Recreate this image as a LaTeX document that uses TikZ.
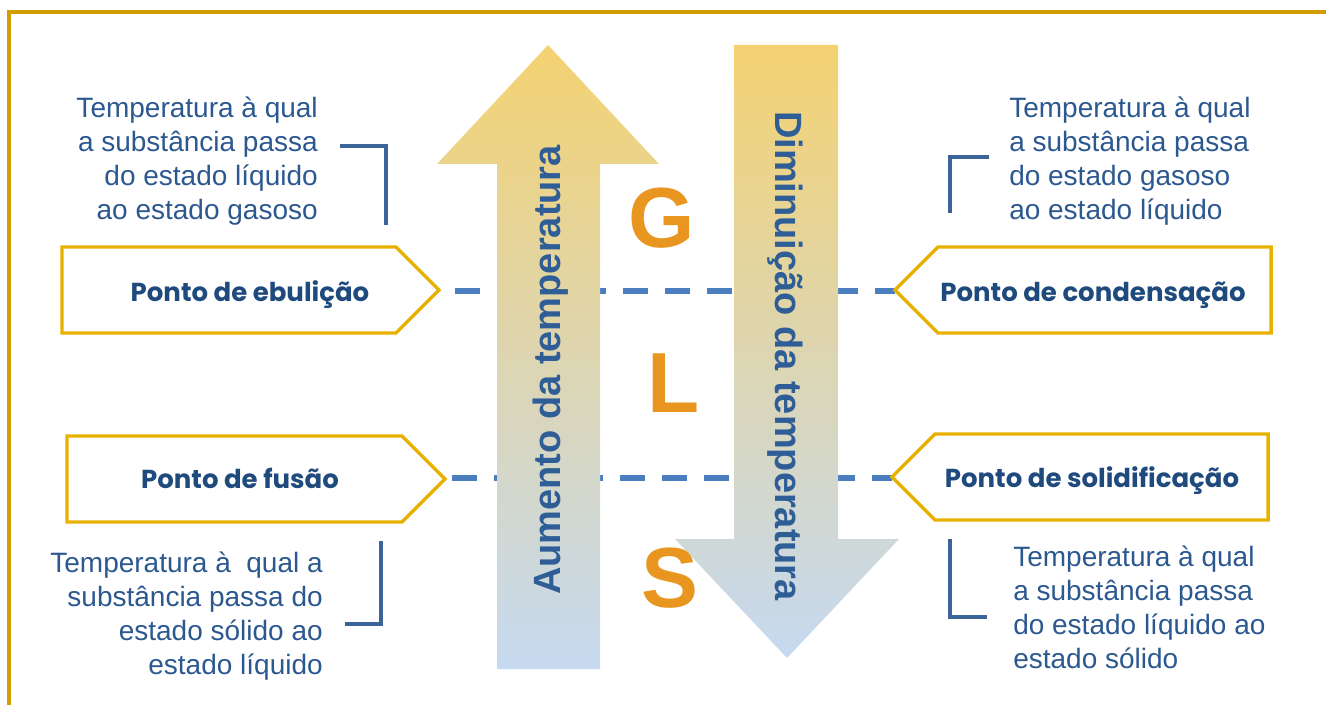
\documentclass[tikz,border=0pt]{standalone}
\usepackage{fontspec}
\setmainfont{Liberation Sans}
\newfontfamily\labelfont{Poppins}
\definecolor{framecol}{HTML}{D09E00}
\definecolor{pentacol}{HTML}{E8B100}
\definecolor{lbltext}{HTML}{1F4A7E}
\definecolor{anntext}{HTML}{2C5890}
\definecolor{brkcol}{HTML}{3B6598}
\definecolor{dashcol}{HTML}{4A7EBF}
\definecolor{arrtop}{HTML}{F4D272}
\definecolor{arrbot}{HTML}{C6D9F0}
\definecolor{arrtext}{HTML}{2F5E97}
\definecolor{lettercol}{HTML}{E8961F}
\tikzset{
  pentabox/.style={draw=pentacol, line width=2.6pt, fill=white, line join=miter},
  lbl/.style={inner sep=0pt, text=lbltext, font=\labelfont\bfseries\fontsize{19.5}{22}\selectfont},
  ann/.style={inner sep=0pt, text=anntext, font=\fontsize{21}{25.5}\selectfont},
  brk/.style={draw=brkcol, line width=2.5pt},
  dashline/.style={draw=dashcol, line width=4.5pt, dash pattern=on 18.75pt off 12.75pt},
  bigarrow/.style={top color=arrtop, bottom color=arrbot, draw=none},
  arrtxt/.style={inner sep=0pt, text=arrtext, font=\bfseries\fontsize{28.5}{30}\selectfont},
  phase/.style={inner sep=0pt, text=lettercol, font=\bfseries\fontsize{64}{66}\selectfont}
}
\begin{document}
\begin{tikzpicture}[x=0.75pt,y=-0.75pt]
\useasboundingbox (0,0) rectangle (1326,705);
\clip (0,0) rectangle (1326,705);
% frame
\draw[framecol, line width=3pt] (9,12) rectangle (1400,800);

% dashed connectors (behind arrows)
\coordinate (ebul-tip) at (439,290);
\coordinate (fus-tip) at (445,479);
\coordinate (cond-tip) at (895,290);
\coordinate (solid-tip) at (892,477);
\coordinate (ebul-start) at (455,291);
\coordinate (fus-start) at (452,478);
\coordinate (cond-end) at (895,291);
\coordinate (solid-end) at (892,478);
\draw[dashline] (ebul-start) -- (cond-end);
\draw[dashline] (fus-start) -- (solid-end);

% big arrows
\shade[bigarrow] (497,669) -- (497,164) -- (437,164) -- (548,45) -- (659,164) -- (600,164) -- (600,669) -- cycle;
\shade[bigarrow] (734,45) -- (838,45) -- (838,539) -- (899,539) -- (787,658) -- (675,539) -- (734,539) -- cycle;
\node[arrtxt, rotate=90, anchor=base] (uplabel) at (560,370) {Aumento da temperatura};
\node[arrtxt, rotate=-90, anchor=base] (downlabel) at (775,356) {Diminuição da temperatura};

% phase letters
\node[phase, anchor=base] (G) at (662,248) {G};
\node[phase, anchor=base] (L) at (674,412) {L};
\node[phase, anchor=base] (S) at (670,607) {S};

% pentagon labels
\draw[pentabox] (62,247) -- (396,247) -- (ebul-tip) -- (396,333) -- (62,333) -- cycle;
\draw[pentabox] (67,436) -- (402,436) -- (fus-tip) -- (402,522) -- (67,522) -- cycle;
\draw[pentabox] (1271,247) -- (938,247) -- (cond-tip) -- (938,333) -- (1271,333) -- cycle;
\draw[pentabox] (1268,434) -- (935,434) -- (solid-tip) -- (935,520) -- (1268,520) -- cycle;
\node[lbl, anchor=base] (ebul) at (250,302) {Ponto de ebulição};
\node[lbl, anchor=base] (fus) at (240,488) {Ponto de fusão};
\node[lbl, anchor=base] (cond) at (1093,302) {Ponto de condensação};
\node[lbl, anchor=base] (solid) at (1092,487) {Ponto de solidificação};

% annotations
\node[ann, anchor=north east, align=right] (ann-ebul) at (318,97) {Temperatura à qual\\a substância passa\\do estado líquido\\ao estado gasoso};
\node[ann, anchor=north west, align=left] (ann-cond) at (1009,97) {Temperatura à qual\\a substância passa\\do estado gasoso\\ao estado líquido};
\node[ann, anchor=north east, align=right] (ann-fus) at (323,552) {Temperatura à\ \ qual a\\substância passa do\\estado sólido ao\\estado líquido};
\node[ann, anchor=north west, align=left] (ann-solid) at (1013,546) {Temperatura à qual\\a substância passa\\do estado líquido ao\\estado sólido};

% brackets
\draw[brk] (340,146) -- (386,146) -- (386,225);
\draw[brk] (989,157) -- (950,157) -- (950,213);
\draw[brk] (381,541) -- (381,624) -- (345,624);
\draw[brk] (950,539) -- (950,617) -- (987,617);
\end{tikzpicture}
\end{document}
